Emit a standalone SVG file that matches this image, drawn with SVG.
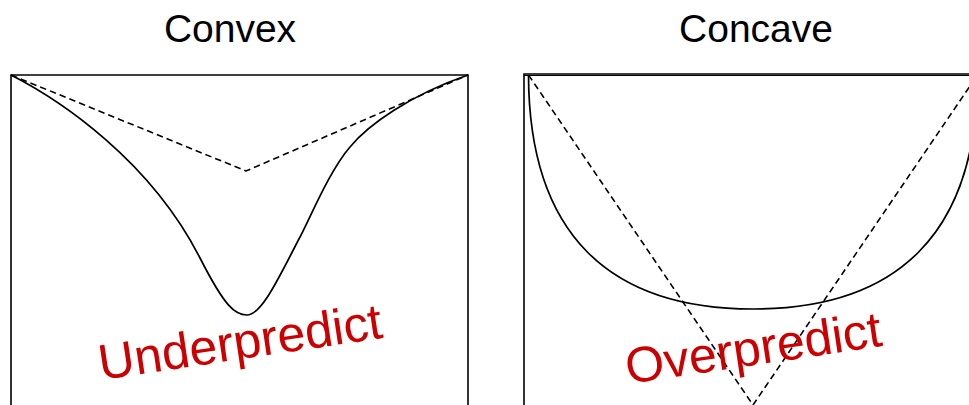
<svg xmlns="http://www.w3.org/2000/svg" width="969" height="405" viewBox="0 0 969 405">
<style>
.title{font-family:"Liberation Sans",Arial,sans-serif;font-size:39px;fill:#000;text-anchor:middle}
.label{font-family:"Liberation Sans",Arial,sans-serif;font-size:50px;fill:#cc0000}
.box{fill:none;stroke:#000;stroke-width:1.6}
.curve{fill:none;stroke:#000;stroke-width:1.7}
.chord{fill:none;stroke:#000;stroke-width:1.6;stroke-dasharray:6.5 4}
</style>
<rect width="969" height="405" fill="#fff"/>
<g id="convex">
<text class="title" x="230" y="42">Convex</text>
<path class="box" d="M11,405 V75 H468 V405"/>
<path class="chord" d="M11,75 L246,171 L468,75"/>
<path class="curve" d="M11,75 C60,100 150,160 200,258 C225,307 235,315 247,315 C262,315 280,275 300,237 C311,216 330,170 350,147 C368,125 410,95 468,75"/>
<text class="label" transform="translate(101,380) rotate(-8.5)">Underpredict</text>
</g>
<g id="concave">
<text class="title" x="756" y="42">Concave</text>
<path class="box" d="M524,405 V74 H969"/>
<path fill="none" stroke="#000" stroke-width="1.2" d="M524,75.5 H969"/>
<path class="chord" d="M528.5,75 L753,405 L977.5,75"/>
<path class="curve" d="M528.5,75 C529,235 610,309 753,309 C896,309 977,235 977.5,75"/>
<text class="label" transform="translate(628,384) rotate(-8.5)">Overpredict</text>
</g>
</svg>
